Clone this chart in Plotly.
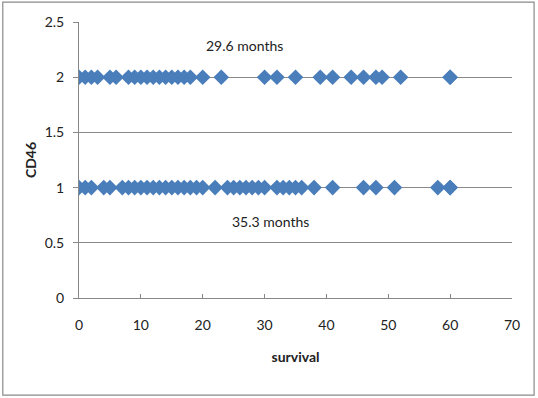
import plotly.graph_objects as go

survival_cd46_2 = [0, 1, 2, 3, 5, 6, 8, 9, 10, 11, 12, 13, 14, 15, 16, 17, 18, 20, 23,
                   30, 32, 35, 39, 41, 44, 46, 48, 49, 52, 60, 60]
survival_cd46_1 = [0, 1, 2, 4, 5, 7, 8, 9, 10, 11, 12, 13, 14, 15, 16, 17, 18, 19, 20, 22,
                   24, 25, 26, 27, 28, 29, 30, 32, 33, 34, 35, 36, 38, 41, 46, 48, 51, 58, 60, 60]
cd46_2 = [2] * len(survival_cd46_2)
cd46_1 = [1] * len(survival_cd46_1)

x_ticks = [0, 10, 20, 30, 40, 50, 60, 70]
y_ticks = [0, 0.5, 1, 1.5, 2, 2.5]
y_tick_labels = ["0", "0.5", "1", "1.5", "2", "2.5"]

font_family = "Lato, 'Liberation Sans', sans-serif"
blue = "#4A7EBB"

fig = go.Figure()
fig.add_trace(go.Scatter(x=survival_cd46_2 + survival_cd46_1, y=cd46_2 + cd46_1,
                         mode="markers",
                         marker=dict(symbol="diamond", size=12, color=blue,
                                     line=dict(width=0)),
                         showlegend=False))

fig.add_annotation(x=26.8, y=2.29, text="29.6 months", showarrow=False,
                   font=dict(family=font_family, size=14, color="#222"))
fig.add_annotation(x=30.9, y=0.69, text="35.3 months", showarrow=False,
                   font=dict(family=font_family, size=14, color="#222"))

# outer chart border
fig.add_shape(type="rect", xref="paper", yref="paper",
              x0=-0.176, x1=1.051, y0=-0.352, y1=1.072,
              line=dict(color="#8a8a8a", width=1.2), layer="below")

fig.update_layout(
    width=538, height=398,
    margin=dict(l=79, r=26, t=22, b=100, autoexpand=False),
    paper_bgcolor="white", plot_bgcolor="white",
    font=dict(family=font_family, size=14, color="#222"),
    xaxis=dict(range=[0, 70], tickvals=x_ticks, showgrid=False,
               showline=True, linecolor="#888", linewidth=1,
               ticks="inside", ticklen=4, tickcolor="#888",
               zeroline=False, automargin=False, ticklabelstandoff=14,
               title=dict(text="<b>survival</b>", standoff=20,
                          font=dict(size=14))),
    yaxis=dict(range=[0, 2.5], tickvals=y_ticks, ticktext=y_tick_labels,
               showgrid=True, gridcolor="#8a8a8a", gridwidth=1,
               showline=True, linecolor="#888", linewidth=1,
               ticks="outside", ticklen=5, tickcolor="#888",
               zeroline=False, automargin=False, ticklabelstandoff=6,
               title=dict(text="<b>CD46</b>", standoff=4,
                          font=dict(size=14))),
)

fig.write_html("out.html", config={"displayModeBar": False},
               post_script="document.body.style.margin='0';document.body.style.padding='0';")
